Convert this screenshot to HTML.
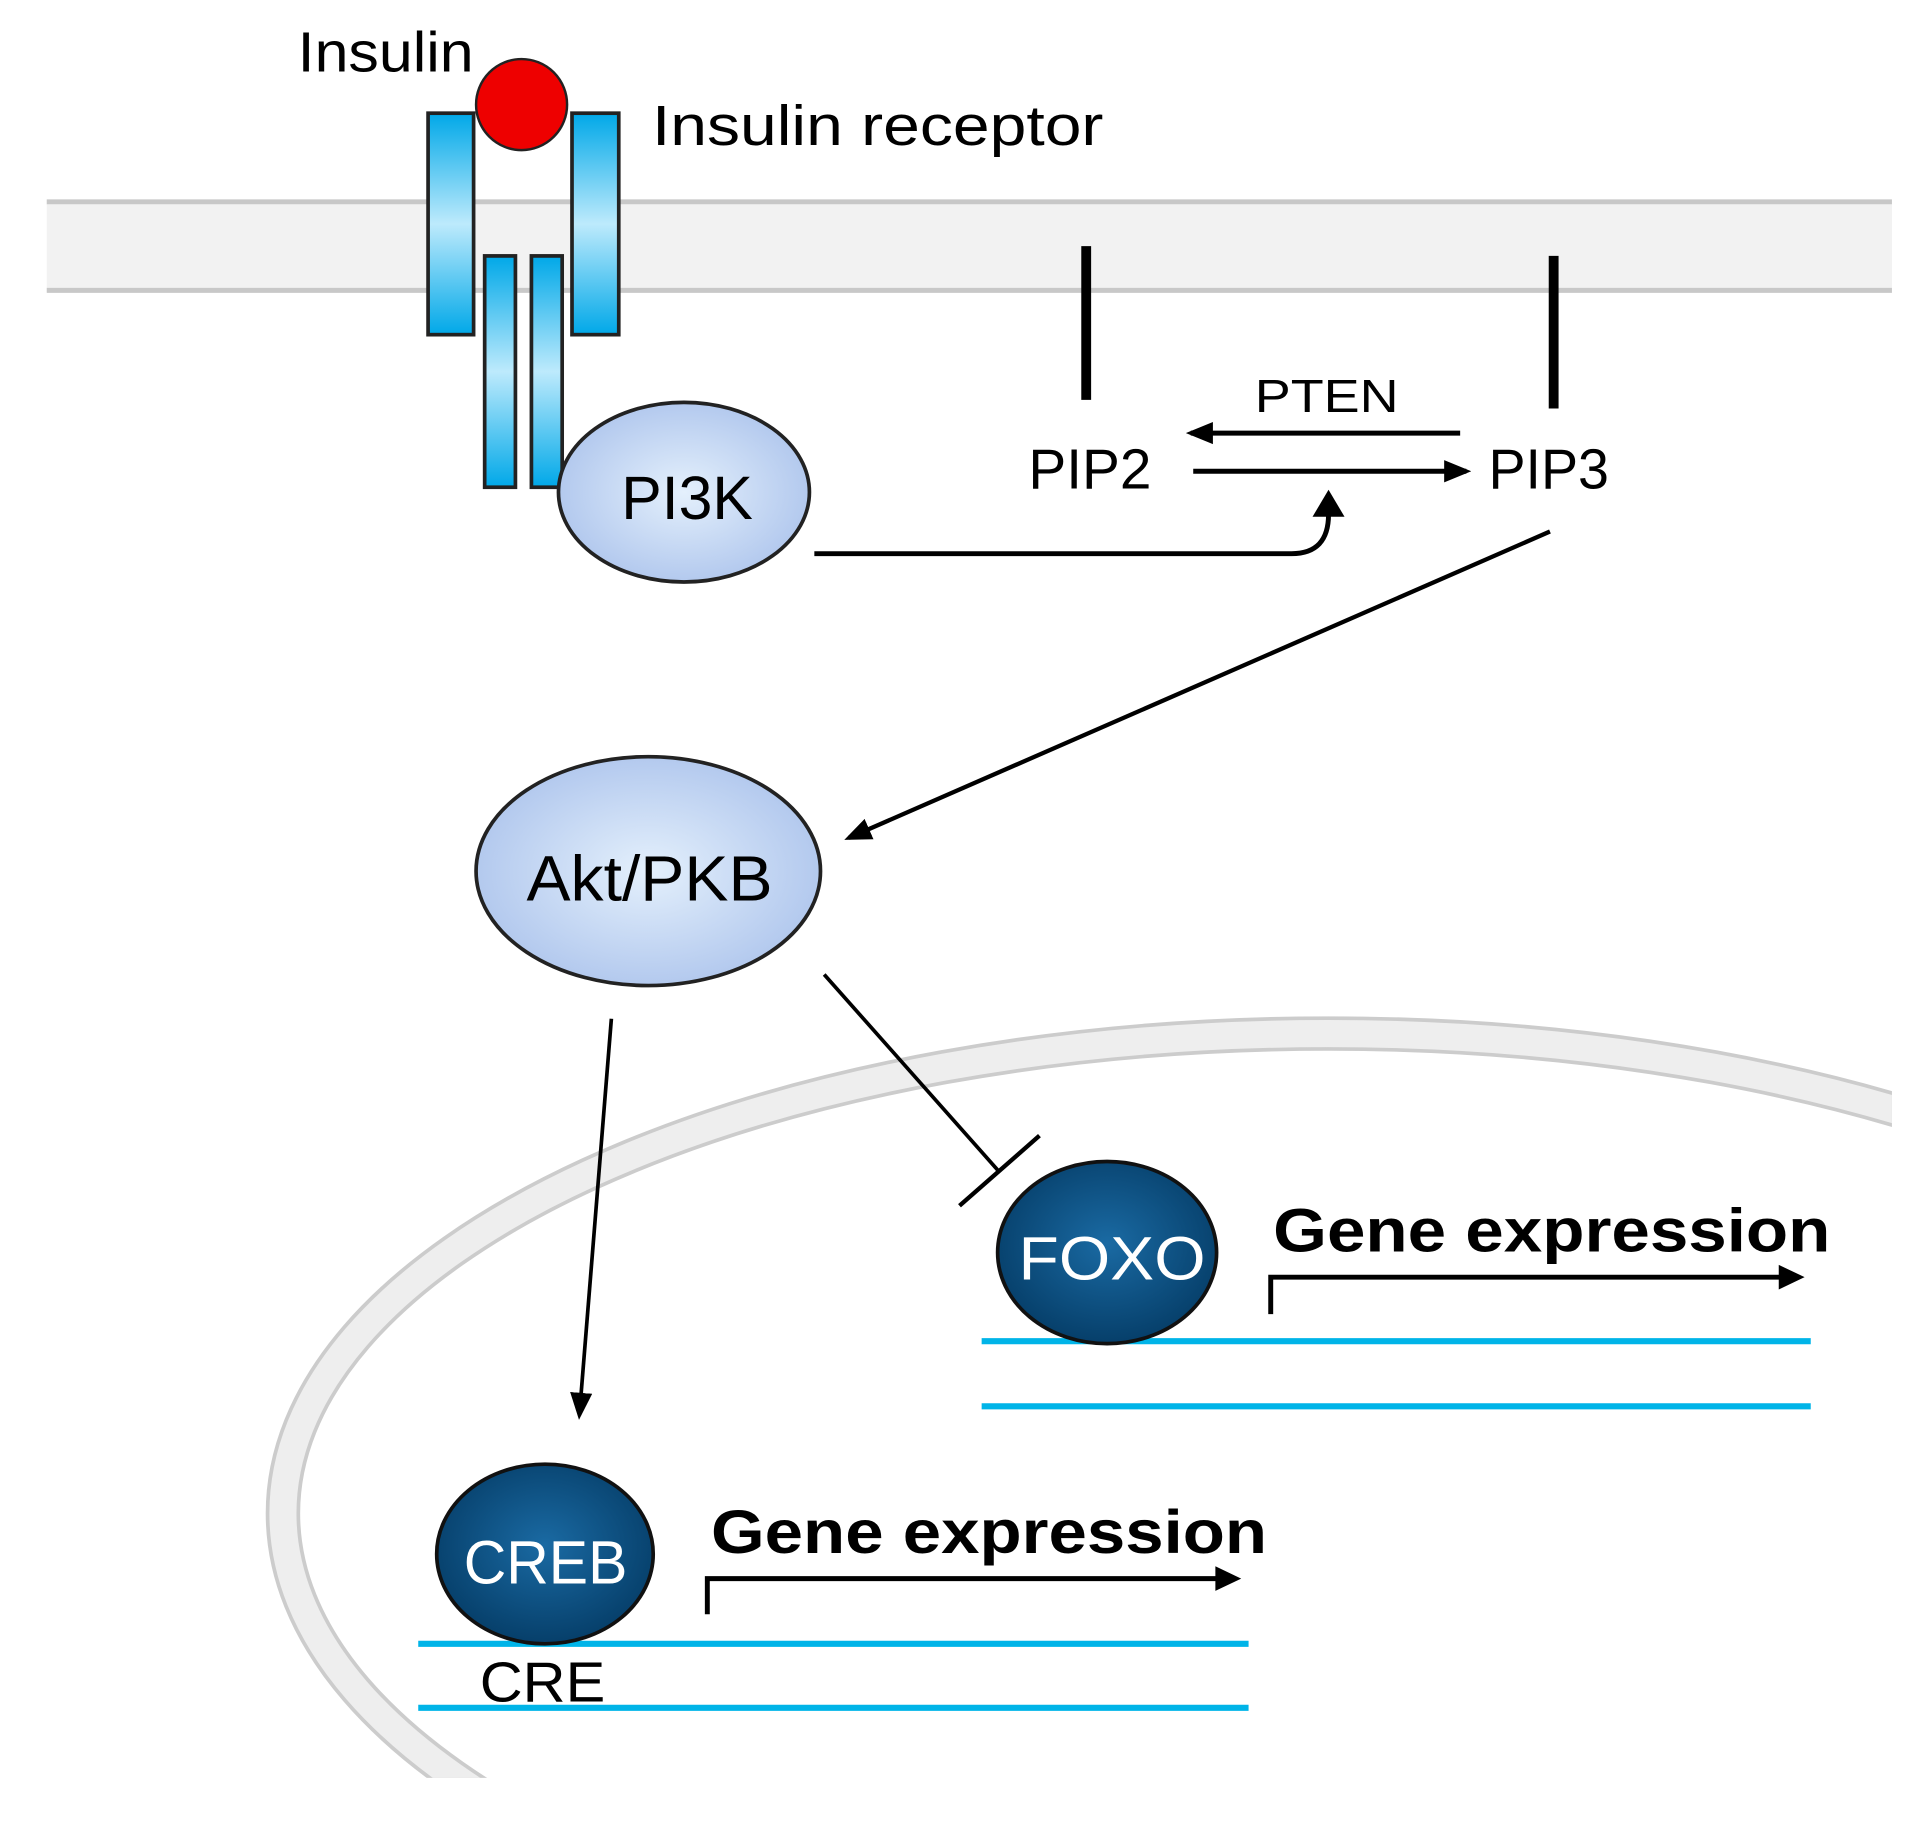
<!DOCTYPE html>
<html><head><meta charset="utf-8"><style>
html,body{margin:0;padding:0;background:#fff;overflow:hidden;width:1919px;height:1821px;}
svg{display:block;}
text{font-family:"Liberation Sans",sans-serif;}
</style></head><body>
<svg width="1919" height="1821" viewBox="0 0 1560 1480" preserveAspectRatio="none" xmlns="http://www.w3.org/2000/svg">
<defs>
<linearGradient id="rv" x1="0" x2="0" y1="0" y2="1">
<stop offset="0" stop-color="#00a8e8"/><stop offset="0.5" stop-color="#bdeafc"/><stop offset="1" stop-color="#00a8e8"/>
</linearGradient>
<radialGradient id="lb" cx="0.5" cy="0.5" r="0.5">
<stop offset="0" stop-color="#e4f0fc"/><stop offset="1" stop-color="#b3c9ee"/>
</radialGradient>
<radialGradient id="db" cx="0.5" cy="0.45" r="0.55">
<stop offset="0" stop-color="#1a6aa3"/><stop offset="1" stop-color="#063f6a"/>
</radialGradient>
<marker id="ah2" markerWidth="22" markerHeight="22" refX="18" refY="11" orient="auto" markerUnits="userSpaceOnUse" viewBox="0 0 22 22">
<path d="M0,2 L22,11 L0,20 z" fill="#000"/>
</marker>
<clipPath id="nc"><rect x="0" y="0" width="1538" height="1445"/></clipPath>
</defs>
<rect x="38" y="163" width="1500" height="74" fill="#f2f2f2"/>
<line x1="38" y1="164" x2="1538" y2="164" stroke="#c8c8c8" stroke-width="4"/>
<line x1="38" y1="236" x2="1538" y2="236" stroke="#c8c8c8" stroke-width="4"/>
<g clip-path="url(#nc)">
<ellipse cx="1080" cy="1230" rx="850" ry="390" fill="none" stroke="#cccccc" stroke-width="28"/>
<ellipse cx="1080" cy="1230" rx="850" ry="390" fill="none" stroke="#eeeeee" stroke-width="22"/>
</g>
<rect x="348" y="92" width="37" height="180" fill="url(#rv)" stroke="#222" stroke-width="3"/>
<rect x="465" y="92" width="38" height="180" fill="url(#rv)" stroke="#222" stroke-width="3"/>
<rect x="394" y="208" width="25" height="188" fill="url(#rv)" stroke="#222" stroke-width="3"/>
<rect x="432" y="208" width="25" height="188" fill="url(#rv)" stroke="#222" stroke-width="3"/>
<circle cx="424" cy="85" r="37" fill="#ee0000" stroke="#222" stroke-width="2"/>
<text x="242" y="58" font-size="46" textLength="143" lengthAdjust="spacingAndGlyphs">Insulin</text>
<text x="530" y="118" font-size="46" textLength="367" lengthAdjust="spacingAndGlyphs">Insulin receptor</text>
<ellipse cx="556" cy="400" rx="102" ry="73" fill="url(#lb)" stroke="#222" stroke-width="3"/>
<text x="505" y="422" font-size="50" textLength="107" lengthAdjust="spacingAndGlyphs">PI3K</text>
<line x1="883" y1="200" x2="883" y2="325" stroke="#000" stroke-width="8"/>
<line x1="1263" y1="208" x2="1263" y2="332" stroke="#000" stroke-width="8"/>
<text x="836" y="397" font-size="46" textLength="100" lengthAdjust="spacingAndGlyphs">PIP2</text>
<text x="1210" y="397" font-size="46" textLength="98" lengthAdjust="spacingAndGlyphs">PIP3</text>
<text x="1020" y="335" font-size="38" textLength="117" lengthAdjust="spacingAndGlyphs">PTEN</text>
<line x1="1187" y1="352" x2="968" y2="352" stroke="#000" stroke-width="4" marker-end="url(#ah2)"/>
<line x1="970" y1="383" x2="1192" y2="383" stroke="#000" stroke-width="4" marker-end="url(#ah2)"/>
<path d="M662,450 L1050,450 Q1080,450 1080,418" fill="none" stroke="#000" stroke-width="4"/>
<path d="M1067,420 L1080,398 L1093,420 z" fill="#000"/>
<line x1="1260" y1="432" x2="690" y2="681" stroke="#000" stroke-width="3.5" marker-end="url(#ah2)"/>
<ellipse cx="527" cy="708" rx="140" ry="93" fill="url(#lb)" stroke="#222" stroke-width="3"/>
<text x="428" y="732" font-size="52" textLength="200" lengthAdjust="spacingAndGlyphs">Akt/PKB</text>
<line x1="497" y1="828" x2="471" y2="1150" stroke="#000" stroke-width="3" marker-end="url(#ah2)"/>
<line x1="670" y1="792" x2="812" y2="952" stroke="#000" stroke-width="3"/>
<line x1="780" y1="980" x2="845" y2="923" stroke="#000" stroke-width="3.5"/>
<line x1="798" y1="1090" x2="1472" y2="1090" stroke="#00b4e8" stroke-width="5"/>
<line x1="798" y1="1143" x2="1472" y2="1143" stroke="#00b4e8" stroke-width="5"/>
<ellipse cx="900" cy="1018" rx="89" ry="74" fill="url(#db)" stroke="#111" stroke-width="3"/>
<text x="828" y="1040" font-size="50" fill="#fff" textLength="152" lengthAdjust="spacingAndGlyphs">FOXO</text>
<text x="1035" y="1017" font-size="50" font-weight="bold" textLength="453" lengthAdjust="spacingAndGlyphs">Gene expression</text>
<path d="M1033,1068 L1033,1038 L1450,1038" fill="none" stroke="#000" stroke-width="4"/>
<path d="M1446,1028 L1467,1038 L1446,1048 z" fill="#000"/>
<line x1="340" y1="1336" x2="1015" y2="1336" stroke="#00b4e8" stroke-width="5"/>
<line x1="340" y1="1388" x2="1015" y2="1388" stroke="#00b4e8" stroke-width="5"/>
<ellipse cx="443" cy="1263" rx="88" ry="73" fill="url(#db)" stroke="#111" stroke-width="3"/>
<text x="377" y="1287" font-size="50" fill="#fff" textLength="133" lengthAdjust="spacingAndGlyphs">CREB</text>
<text x="390" y="1383" font-size="46" textLength="102" lengthAdjust="spacingAndGlyphs">CRE</text>
<text x="578" y="1262" font-size="50" font-weight="bold" textLength="452" lengthAdjust="spacingAndGlyphs">Gene expression</text>
<path d="M575,1312 L575,1283 L992,1283" fill="none" stroke="#000" stroke-width="4"/>
<path d="M988,1273 L1009,1283 L988,1293 z" fill="#000"/>
</svg>
</body></html>
